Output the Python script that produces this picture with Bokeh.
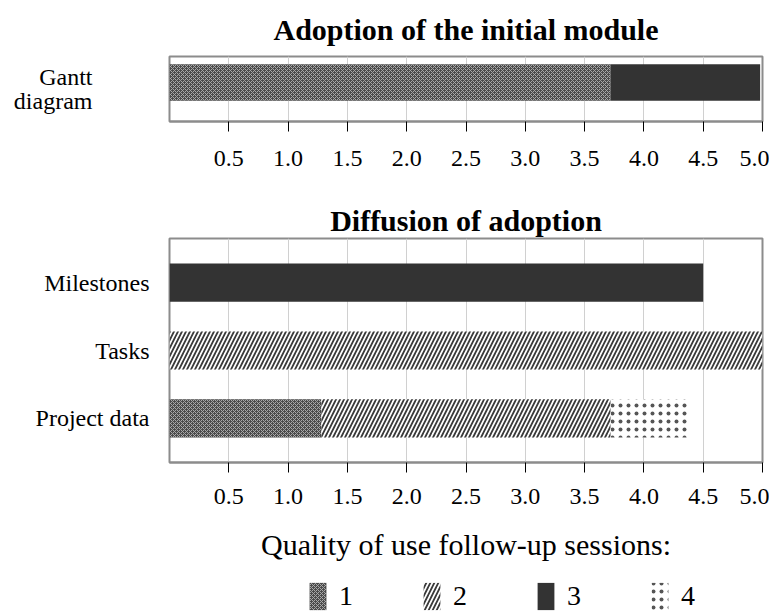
from bokeh.plotting import figure
from bokeh.layouts import column
from bokeh.models import (ColumnDataSource, FactorRange, Range1d, FixedTicker,
                          Legend, LegendItem)
from bokeh.transform import dodge
from bokeh.embed import file_html
from bokeh.resources import INLINE

# ---------------- data ----------------
top_title = "Adoption of the initial module"
bottom_title = "Diffusion of adoption"
legend_title = "Quality of use follow-up sessions:"

top_categories = ["Gantt diagram"]
top_q1 = [3.72]
top_q2 = [0.0]
top_q3 = [1.26]
top_q4 = [0.0]

bottom_categories = ["Project data", "Tasks", "Milestones"]
bottom_q1 = [1.28, 0.0, 0.0]
bottom_q2 = [2.44, 5.0, 0.0]
bottom_q3 = [0.0, 0.0, 4.5]
bottom_q4 = [0.66, 0.0, 0.0]

quality_levels = ["1", "2", "3", "4"]
x_ticks = [0.5, 1.0, 1.5, 2.0, 2.5, 3.0, 3.5, 4.0, 4.5, 5.0]
x_tick_labels = ["0.5", "1.0", "1.5", "2.0", "2.5", "3.0", "3.5", "4.0", "4.5", "5.0"]

# ---------------- styles ----------------
SERIF = "Liberation Serif"
stackers = ["q1", "q2", "q3", "q4"]
fill_colors = ["#4a4a4a", "white", "#333333", "white"]
hatch_patterns = ["diagonal_cross", "right_diagonal_line", " ", "dot"]
hatch_colors = ["#a8a8a8", "#3a3a3a", "#333333", "#555555"]
hatch_scales = [4, 8, 6, 8]
hatch_weights = [1.0, 1.8, 1.0, 1.0]
OUTLINE = "#8c8c8c"
W = 769
LEFT = 169
RIGHT = 7


def style_common(p):
    p.outline_line_color = OUTLINE
    p.outline_line_width = 2
    p.xaxis.ticker = FixedTicker(ticks=x_ticks)
    p.xaxis.major_label_overrides = {t: l for t, l in zip(x_ticks, x_tick_labels)}
    p.xaxis.axis_line_color = OUTLINE
    p.xaxis.axis_line_width = 2
    p.xaxis.major_tick_out = 10
    p.xaxis.major_tick_in = 0
    p.xaxis.major_tick_line_color = "black"
    p.xaxis.minor_tick_line_color = None
    p.xaxis.major_label_text_font = SERIF
    p.xaxis.major_label_text_font_size = "24px"
    p.xaxis.major_label_text_color = "black"
    p.xaxis.major_label_standoff = 16
    p.xgrid.ticker = FixedTicker(ticks=x_ticks)
    p.xgrid.grid_line_color = "#d0d0d0"
    p.ygrid.grid_line_color = None
    p.yaxis.axis_line_color = None
    p.yaxis.major_tick_line_color = None
    p.yaxis.major_tick_out = 0
    p.yaxis.major_tick_in = 0
    p.yaxis.minor_tick_line_color = None
    p.yaxis.major_label_text_font = SERIF
    p.yaxis.major_label_text_font_size = "24px"
    p.yaxis.major_label_text_color = "black"
    p.title.align = "center"
    p.title.text_font = SERIF
    p.title.text_font_size = "30px"
    p.title.text_font_style = "bold"
    p.title.text_color = "black"


def stack(p, source, y):
    return p.hbar_stack(stackers, y=y, height=0.56, source=source,
                        fill_color=fill_colors, line_color=None,
                        hatch_pattern=hatch_patterns, hatch_color=hatch_colors,
                        hatch_scale=hatch_scales, hatch_weight=hatch_weights)


# ---------------- top chart ----------------
src_top = ColumnDataSource(dict(cat=top_categories, q1=top_q1, q2=top_q2,
                                q3=top_q3, q4=top_q4))
p1 = figure(width=W, height=185, title=top_title,
            y_range=FactorRange(factors=top_categories, range_padding=0),
            x_range=Range1d(0, 5), output_backend="svg", toolbar_location=None,
            min_border_left=LEFT, min_border_right=RIGHT, min_border_top=54,
            min_border_bottom=64)
style_common(p1)
p1.title.standoff = 21
p1.xaxis.major_label_standoff = 19
# category shown as a two-line horizontal axis label instead of a tick label
p1.yaxis.major_label_text_font_size = "0px"
p1.yaxis.major_label_text_color = None
p1.yaxis.major_label_standoff = 0
p1.yaxis.axis_label = top_categories[0].replace(" ", "\n")
p1.yaxis.axis_label_orientation = "horizontal"
p1.yaxis.axis_label_standoff = 77
p1.yaxis.axis_label_text_line_height = 0.9
p1.yaxis.axis_label_text_font = SERIF
p1.yaxis.axis_label_text_font_size = "24px"
p1.yaxis.axis_label_text_font_style = "normal"
p1.yaxis.axis_label_text_color = "black"
stack(p1, src_top, dodge("cat", 0.1, range=p1.y_range))

# ---------------- bottom chart ----------------
src_bot = ColumnDataSource(dict(cat=bottom_categories, q1=bottom_q1, q2=bottom_q2,
                                q3=bottom_q3, q4=bottom_q4))
p2 = figure(width=W, height=327, title=bottom_title,
            y_range=FactorRange(factors=bottom_categories, range_padding=0.1),
            x_range=Range1d(0, 5), output_backend="svg", toolbar_location=None,
            min_border_left=LEFT, min_border_right=RIGHT, min_border_top=53,
            min_border_bottom=50)
style_common(p2)
p2.title.standoff = 4
p2.yaxis.major_label_standoff = 20
stack(p2, src_bot, "cat")

# ---------------- legend ----------------
p3 = figure(width=W, height=101, title=legend_title,
            x_range=Range1d(0, 1), y_range=Range1d(0, 1),
            output_backend="svg", toolbar_location=None,
            min_border_left=LEFT, min_border_right=RIGHT, min_border_top=50,
            min_border_bottom=0)
p3.axis.visible = False
p3.grid.visible = False
p3.outline_line_color = None
p3.title.align = "center"
p3.title.text_font = SERIF
p3.title.text_font_size = "30px"
p3.title.text_font_style = "normal"
p3.title.text_color = "black"
p3.title.standoff = 4
# placeholder source: a zero-width bar below the visible range, only for legend swatches
swatch = ColumnDataSource(dict(y=[-1.0], right=[0.0]))
items = []
for i, q in enumerate(quality_levels):
    r = p3.hbar(y="y", right="right", height=0.5, source=swatch,
                fill_color=fill_colors[i], line_color=None,
                hatch_pattern=hatch_patterns[i], hatch_color=hatch_colors[i],
                hatch_scale=hatch_scales[i], hatch_weight=hatch_weights[i])
    items.append(LegendItem(label=q, renderers=[r]))
legend = Legend(items=items, orientation="horizontal", location=(138, 0),
                glyph_width=21, glyph_height=34, label_standoff=11, spacing=62,
                padding=0, margin=0, border_line_color=None,
                background_fill_alpha=0, label_text_font=SERIF,
                label_text_font_size="28px", label_text_color="black")
p3.add_layout(legend)

layout = column(p1, p2, p3, spacing=0)
open("out.html", "w").write(file_html(layout, INLINE))
